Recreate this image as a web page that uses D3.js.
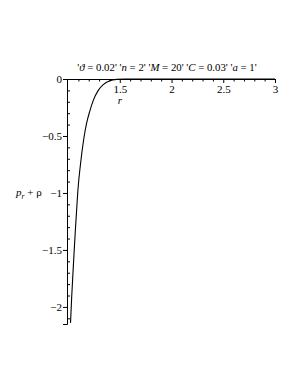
<!DOCTYPE html>
<html>
<head>
<meta charset="utf-8">
<script src="https://cdn.jsdelivr.net/npm/d3@7"></script>
<style>
  body { margin: 0; background: #fff; }
  svg { display: block; }
  text { font-family: "Liberation Serif", "DejaVu Serif", serif; fill: #000; }
</style>
</head>
<body>
<svg id="chart"></svg>
<script>
const width = 300;
const height = 388;

// curve values: r and p_r + rho
const rValues = [1.024, 1.035, 1.046, 1.058, 1.07, 1.083, 1.095, 1.12, 1.153, 1.179, 1.211, 1.243, 1.292, 1.34, 1.404, 1.47, 1.55, 1.7, 2, 2.5, 3];
const sumValues = [-2.14, -1.92, -1.73, -1.53, -1.34, -1.15, -0.98, -0.75, -0.52, -0.39, -0.28, -0.19, -0.10, -0.05, -0.015, -0.003, 0, 0, 0, 0, 0];

const xTicks = [1.5, 2, 2.5, 3];
const xTickLabels = ["1.5", "2", "2.5", "3"];
const yTicks = [0, -0.5, -1, -1.5, -2];
const yTickLabels = ["0", "\u22120.5", "\u22121", "\u22121.5", "\u22122"];

const svg = d3.select("#chart").attr("width", width).attr("height", height);

const xScale = d3.scaleLinear().domain([0.99, 3]).range([67, 275]);
const yScale = d3.scaleLinear().domain([-2.15, 0]).range([324, 79]);

// title
const title = svg.append("text")
  .attr("x", 167)
  .attr("y", 71)
  .attr("text-anchor", "middle")
  .style("font-size", "10.8px");
const parts = [
  ["'", false], ["\u03D1", true], [" = 0.02' '", false], ["n", true], [" = 2' '", false],
  ["M", true], [" = 20' '", false], ["C", true], [" = 0.03' '", false], ["a", true], [" = 1'", false]
];
parts.forEach(p => {
  title.append("tspan").text(p[0]).style("font-style", p[1] ? "italic" : "normal");
});

// x axis
const xAxis = d3.axisBottom(xScale)
  .tickValues(xTicks)
  .tickFormat((d, i) => xTickLabels[i])
  .tickSizeOuter(0)
  .tickSize(4)
  .tickPadding(2);

const gx = svg.append("g")
  .attr("transform", "translate(0," + yScale(0) + ")")
  .call(xAxis);
gx.select(".domain").attr("d", "M" + xScale(0.99) + ",0.5H" + xScale(3));
gx.selectAll("text").style("font-size", "11px").style("font-family", "Liberation Serif");

const xMinor = d3.range(1.1, 3, 0.1).filter(v => Math.abs(v * 2 - Math.round(v * 2)) > 0.01);
gx.selectAll(".minor")
  .data(xMinor)
  .enter()
  .append("line")
  .attr("x1", d => xScale(d) + 0.5)
  .attr("x2", d => xScale(d) + 0.5)
  .attr("y1", 0)
  .attr("y2", 2.5)
  .attr("stroke", "#000");

// y axis
const yAxis = d3.axisLeft(yScale)
  .tickValues(yTicks)
  .tickFormat((d, i) => yTickLabels[i])
  .tickSizeOuter(0)
  .tickSize(4)
  .tickPadding(1);

const gy = svg.append("g")
  .attr("transform", "translate(" + xScale(0.99) + ",0)")
  .call(yAxis);
gy.selectAll("text").style("font-size", "11px").style("font-family", "Liberation Serif");

const yMinor = d3.range(-0.1, -2.15, -0.1).filter(v => Math.abs(v * 2 - Math.round(v * 2)) > 0.01);
gy.selectAll(".minor")
  .data(yMinor)
  .enter()
  .append("line")
  .attr("x1", 0)
  .attr("x2", 3)
  .attr("y1", d => yScale(d) + 0.5)
  .attr("y2", d => yScale(d) + 0.5)
  .attr("stroke", "#000");

// axis labels
svg.append("text")
  .attr("x", xScale(1.5))
  .attr("y", 104)
  .attr("text-anchor", "middle")
  .style("font-size", "11px")
  .style("font-style", "italic")
  .text("r");

const ylab = svg.append("text")
  .attr("x", 16)
  .attr("y", 196)
  .style("font-size", "11px");
ylab.append("tspan").style("font-style", "italic").text("p");
ylab.append("tspan").style("font-style", "italic").style("font-size", "7.5px").attr("dy", 3).text("r");
ylab.append("tspan").attr("dy", -3).text(" + \u03C1");

// curve
const line = d3.line()
  .x((d, i) => xScale(rValues[i]))
  .y(d => yScale(d))
  .curve(d3.curveMonotoneX);

svg.append("path")
  .datum(sumValues)
  .attr("d", line)
  .attr("fill", "none")
  .attr("stroke", "#000")
  .attr("stroke-width", 1.1);
</script>
</body>
</html>
